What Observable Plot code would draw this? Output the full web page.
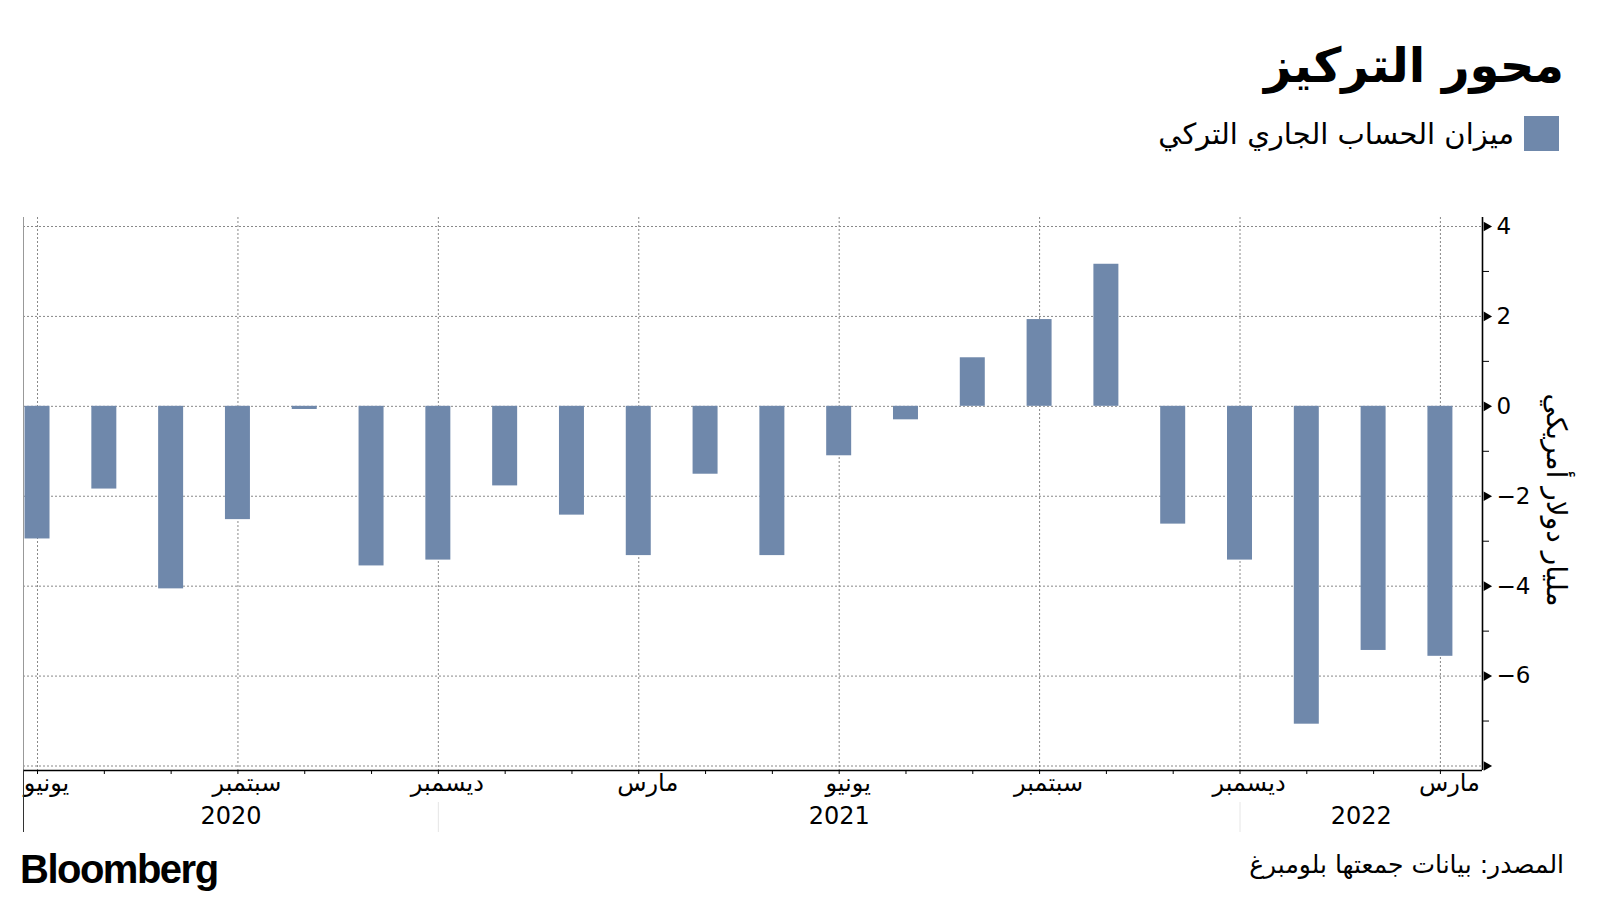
<!DOCTYPE html>
<html><head><meta charset="utf-8">
<script src="https://cdn.jsdelivr.net/npm/d3@7"></script>
<script src="https://cdn.jsdelivr.net/npm/@observablehq/plot@0.6"></script>
<style>
body{margin:0;width:1600px;height:900px;background:#fff;position:relative;overflow:hidden;font-family:"DejaVu Sans",sans-serif;color:#000;}
#title{position:absolute;right:36px;top:37px;font-size:48px;font-weight:bold;direction:rtl;line-height:1.2;white-space:nowrap;}
#legend{position:absolute;right:41px;top:116px;direction:rtl;display:flex;align-items:center;gap:10px;font-size:29px;white-space:nowrap;}
#legend .sw{width:35px;height:35px;background:#6f88ab;display:inline-block;}
#chart{position:absolute;left:0;top:190px;}
#brand{position:absolute;left:20px;top:847px;font-family:"Liberation Sans",Arial,sans-serif;font-weight:bold;font-size:40px;letter-spacing:-1.5px;}
#source{position:absolute;right:36px;top:850px;font-size:25px;direction:rtl;white-space:nowrap;}
</style></head>
<body>
<div id="title">محور التركيز</div>
<div id="legend"><span class="sw"></span><span>ميزان الحساب الجاري التركي</span></div>
<div id="chart"></div>
<div id="brand">Bloomberg</div>
<div id="source">المصدر: بيانات جمعتها بلومبرغ</div>
<script>
// Data
const months = ["2020-06","2020-07","2020-08","2020-09","2020-10","2020-11","2020-12",
  "2021-01","2021-02","2021-03","2021-04","2021-05","2021-06","2021-07","2021-08","2021-09","2021-10","2021-11","2021-12",
  "2022-01","2022-02","2022-03"];
const values = [-2.95,-1.84,-4.06,-2.52,-0.07,-3.55,-3.42,-1.77,-2.42,-3.32,-1.51,-3.32,-1.10,-0.30,1.08,1.93,3.16,-2.62,-3.42,-7.07,-5.43,-5.56];
const tickMonths = ["2020-06","2020-09","2020-12","2021-03","2021-06","2021-09","2021-12","2022-03"];
const tickLabels = ["يونيو","سبتمبر","ديسمبر","مارس","يونيو","سبتمبر","ديسمبر","مارس"];
const years = ["2020","2021","2022"];
const yearBreaks = ["2020-12","2021-12"];
const yMajor = [-8,-6,-4,-2,0,2,4];
const yLabels = [-6,-4,-2,0,2,4];
const yMinor = [-7,-5,-3,-1,1,3];
const seriesName = "ميزان الحساب الجاري التركي";
const yTitle = "مليار دولار أمريكي";

const idx = m => months.indexOf(m);
const data = months.map((m,i)=>({m, i, v: values[i]}));
const xMin = -0.21, xMax = 21.63;
const half = 0.187;
const color = "#6f88ab";
const qIdx = tickMonths.map(idx);
const breakIdx = yearBreaks.map(idx);
const edges = [xMin, ...breakIdx, xMax];
const yearData = years.map((y,k)=>({y, x:(edges[k]+edges[k+1])/2}));

const plot = Plot.plot({
  width: 1600, height: 650,
  marginTop: 27, marginBottom: 70, marginLeft: 23, marginRight: 118,
  x: {type: "linear", domain: [xMin, xMax], axis: null},
  y: {domain: [-8.1, 4.2], axis: null},
  style: {fontFamily: "DejaVu Sans, sans-serif", color: "#000", background: "transparent"},
  marks: [
    Plot.gridY(yMajor, {stroke: "#888", strokeOpacity: 1, strokeDasharray: "2,2"}),
    Plot.gridX(qIdx, {stroke: "#888", strokeOpacity: 1, strokeDasharray: "2,2"}),
    Plot.ruleX([xMin], {stroke: "#999"}),
    Plot.rect(data, {x1: d => d.i - half, x2: d => d.i + half, y1: 0, y2: "v", fill: color}),
    Plot.ruleY([-8.1], {stroke: "#000", strokeWidth: 1.3}),
    Plot.ruleX([xMax], {stroke: "#000", strokeWidth: 1.6}),
    Plot.axisY(yLabels, {anchor: "right", tickSize: 0, tickPadding: 14, fontSize: 23, label: null}),
    Plot.axisY(yMinor, {anchor: "right", tickSize: 6, tickFormat: () => "", label: null}),
    Plot.dot(yMajor, {x: xMax, y: d => d, symbol: "triangle", rotate: 90, r: 3.6, fill: "#000", dx: 4}),
    Plot.axisX(data.map(d => d.i), {anchor: "bottom", tickSize: 4, tickFormat: () => "", label: null}),
    Plot.axisX(qIdx, {anchor: "bottom", tickSize: 0, tickPadding: 3, fontSize: 24, dx: 9, tickFormat: i => tickLabels[qIdx.indexOf(i)], label: null}),
    Plot.axisX(breakIdx, {anchor: "bottom", tickSize: 30, dy: 32, stroke: "#e6e6e6", tickFormat: () => "", label: null}),
    Plot.axisX([xMin], {anchor: "bottom", tickSize: 62, stroke: "#333", tickFormat: () => "", label: null}),
    Plot.text(yearData, {x: "x", frameAnchor: "bottom", dy: 53, text: "y", fontSize: 24}),
    Plot.text([yTitle], {frameAnchor: "right", textAnchor: "middle", rotate: 90, dx: 73, dy: 6, fontSize: 28})
  ]
});
document.getElementById("chart").appendChild(plot);
</script>
</body></html>
